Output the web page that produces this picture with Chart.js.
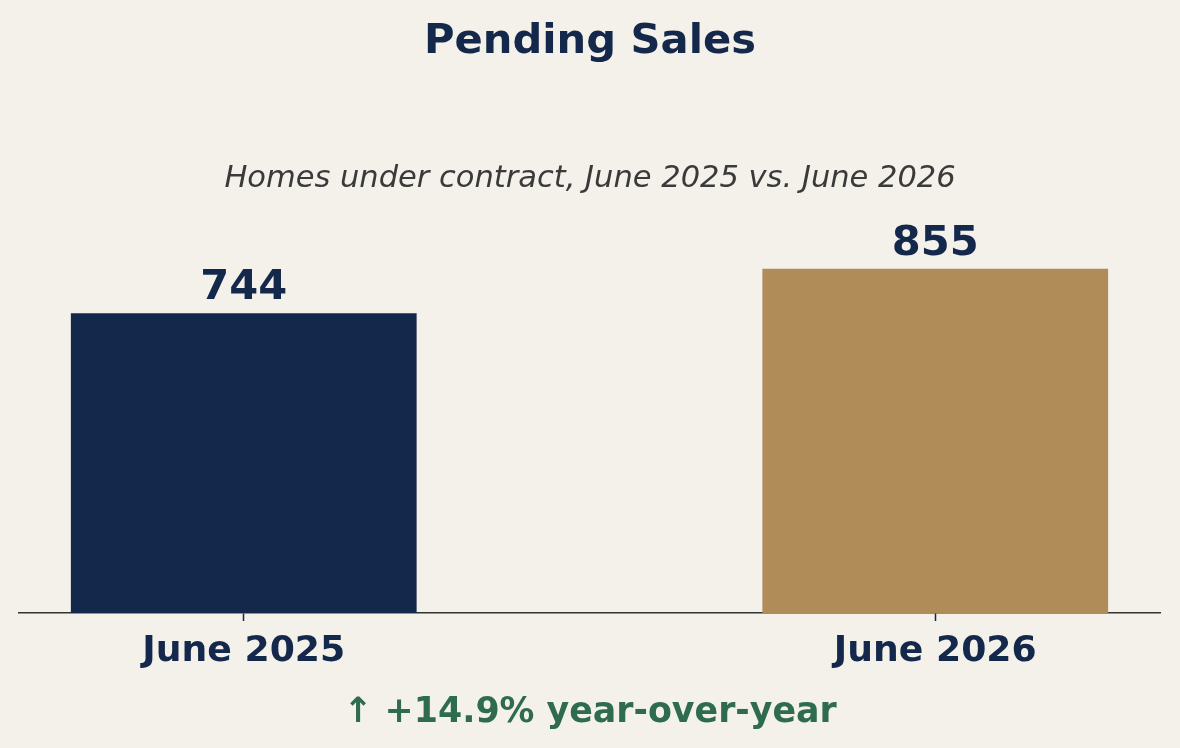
<!DOCTYPE html>
<html>
<head>
<meta charset="utf-8">
<script src="https://cdn.jsdelivr.net/npm/chart.js@4.4.1/dist/chart.umd.min.js"></script>
<style>
  html, body { margin: 0; padding: 0; background: #f4f1eb; }
  #wrap { width: 1180px; height: 748px; position: relative; }
</style>
</head>
<body>
<div id="wrap"><canvas id="c"></canvas></div>
<script>
const categories = ["June 2025", "June 2026"];
const positions = [0, 1];
const values = [744, 855];
const barColors = ["#13284a", "#b08c58"];
const titleText = "Pending Sales";
const subtitleText = "Homes under contract, June 2025 vs. June 2026";
const footerText = "↑ +14.9% year-over-year";

const NAVY = "#13284a";
const FONT = "'DejaVu Sans', sans-serif";

const textPlugin = {
  id: "texts",
  afterDraw(chart) {
    const ctx = chart.ctx;
    const W = chart.width;
    ctx.save();
    ctx.textAlign = "center";
    ctx.textBaseline = "alphabetic";
    ctx.fillStyle = NAVY;
    ctx.font = "bold 41.67px " + FONT;
    ctx.fillText(titleText, W / 2, 53);
    ctx.fillStyle = "#3a3a3a";
    ctx.font = "italic 30.5px " + FONT;
    ctx.fillText(subtitleText, W / 2, 187);
    const meta = chart.getDatasetMeta(0);
    ctx.fillStyle = NAVY;
    ctx.font = "bold 41.67px " + FONT;
    meta.data.forEach((bar, i) => {
      ctx.fillText(String(values[i]), bar.x, bar.y - 14);
    });
    ctx.fillStyle = "#2e6b4f";
    ctx.font = "bold 34.8px " + FONT;
    ctx.fillText(footerText, W / 2, 722);
    ctx.restore();
  }
};

new Chart(document.getElementById("c"), {
  type: "bar",
  data: {
    datasets: [{
      data: positions.map((x, i) => ({ x: x, y: values[i] })),
      backgroundColor: barColors,
      borderWidth: 0,
      categoryPercentage: 1,
      barPercentage: 0.5
    }]
  },
  options: {
    responsive: true,
    maintainAspectRatio: false,
    animation: false,
    layout: { padding: { top: 217, left: 19, right: 20, bottom: 0 } },
    plugins: { legend: { display: false }, tooltip: { enabled: false }, title: { display: false } },
    scales: {
      x: {
        type: "linear",
        offset: false,
        min: -0.325,
        max: 1.325,
        afterBuildTicks(scale) { scale.ticks = positions.map(v => ({ value: v })); },
        afterFit(scale) { scale.height = 135; },
        grid: { display: true, offset: false, drawOnChartArea: false, drawTicks: true, tickLength: 8, tickColor: NAVY, tickWidth: 1.5 },
        border: { display: true, color: "#333333", width: 1.5 },
        ticks: {
          padding: 9,
          color: NAVY,
          font: { family: FONT, size: 36.2, weight: "bold" },
          callback: (v) => categories[positions.indexOf(v)] ?? ""
        }
      },
      y: {
        display: false,
        min: 0,
        max: Math.max(...values) * 1.15
      }
    }
  },
  plugins: [textPlugin]
});
</script>
</body>
</html>
